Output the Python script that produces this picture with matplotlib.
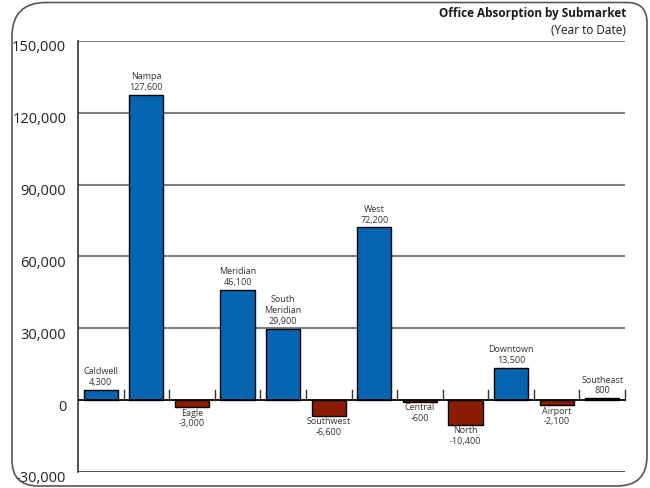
import matplotlib
matplotlib.use("Agg")
import matplotlib.pyplot as plt
import matplotlib.transforms as mtransforms
from matplotlib.path import Path
from matplotlib.patches import PathPatch

# Submarket absorption, year to date (sq ft)
submarkets = ["Caldwell", "Nampa", "Eagle", "Meridian", "South\nMeridian", "Southwest",
              "West", "Central", "North", "Downtown", "Airport", "Southeast"]
absorption = [4300, 127600, -3000, 46100, 29900, -6600, 72200, -600, -10400, 13500, -2100, 800]
value_labels = ["4,300", "127,600", "-3,000", "46,100", "29,900", "-6,600",
                "72,200", "-600", "-10,400", "13,500", "-2,100", "800"]
y_ticks = [-30000, 0, 30000, 60000, 90000, 120000, 150000]
y_tick_labels = ["-30,000", "0", "30,000", "60,000", "90,000", "120,000", "150,000"]

BLUE = "#0665b1"
RED = "#8b1c04"
TEXT = "#333333"
FONT = "Open Sans"

fig = plt.figure(figsize=(6.5, 4.88), dpi=100)
W, H = 650, 488

# Rounded outer frame with uneven corner radii
def frame_path(x0, y0, x1, y1, r_tl, r_tr, r_br, r_bl):
    fx = lambda v: v / W
    fy = lambda v: 1 - v / H
    verts = [
        (fx(x0 + r_tl), fy(y0)),
        (fx(x1 - r_tr), fy(y0)),
        (fx(x1), fy(y0)), (fx(x1), fy(y0 + r_tr)),
        (fx(x1), fy(y1 - r_br)),
        (fx(x1), fy(y1)), (fx(x1 - r_br), fy(y1)),
        (fx(x0 + r_bl), fy(y1)),
        (fx(x0), fy(y1)), (fx(x0), fy(y1 - r_bl)),
        (fx(x0), fy(y0 + r_tl)),
        (fx(x0), fy(y0)), (fx(x0 + r_tl), fy(y0)),
    ]
    codes = [Path.MOVETO, Path.LINETO, Path.CURVE3, Path.CURVE3, Path.LINETO,
             Path.CURVE3, Path.CURVE3, Path.LINETO, Path.CURVE3, Path.CURVE3,
             Path.LINETO, Path.CURVE3, Path.CURVE3]
    return Path(verts, codes)

fig.patches.append(PathPatch(frame_path(12, 2.5, 647, 486, 34, 20, 30, 26),
                             transform=fig.transFigure, facecolor="none",
                             edgecolor="#555555", linewidth=1.2))

ax = fig.add_axes([78 / W, 1 - 472 / H, (625 - 78) / W, (472 - 41) / H])
n = len(submarkets)
x = list(range(n))
colors = [BLUE if v >= 0 else RED for v in absorption]
ax.bar(x, absorption, width=0.75, color=colors, edgecolor="black", linewidth=1.0, zorder=3)

ax.set_xlim(-0.5, n - 0.5)
ax.set_ylim(-30000, 150000)

# Horizontal grid lines
for t in [30000, 60000, 90000, 120000, 150000]:
    ax.axhline(t, color="#7f7f7f", linewidth=1.5, zorder=1)
ax.axhline(0, color="black", linewidth=1.3, zorder=4)
ax.axhline(-30000, color="#444444", linewidth=1.3, zorder=1)

# Category divider ticks on the zero line
for k in range(1, n + 1):
    ax.plot([k - 0.5, k - 0.5], [0, 4200], color="#333333", linewidth=1.0,
            zorder=4, clip_on=False)

for s in ["top", "right", "bottom"]:
    ax.spines[s].set_visible(False)
ax.spines["left"].set_color("#333333")
ax.spines["left"].set_linewidth(1.2)

ax.set_xticks([])
ax.set_yticks(y_ticks)
ax.set_yticklabels(y_tick_labels, fontsize=10.5, color="#222222", family=FONT)
ax.tick_params(axis="y", length=0, pad=8.5)
shift = mtransforms.ScaledTranslation(0, -5 / 100, fig.dpi_scale_trans)
for lbl in ax.get_yticklabels():
    lbl.set_transform(lbl.get_transform() + shift)

# Bar labels: name and value
for xi, name, v, vl in zip(x, submarkets, absorption, value_labels):
    txt = f"{name}\n{vl}"
    if v >= 0:
        ax.annotate(txt, (xi, v), xytext=(0, 2), textcoords="offset points",
                    ha="center", va="bottom", fontsize=6.5, color=TEXT,
                    family=FONT, linespacing=1.25)
    else:
        ax.annotate(txt, (xi, v), xytext=(0, -1), textcoords="offset points",
                    ha="center", va="top", fontsize=6.5, color=TEXT,
                    family=FONT, linespacing=1.25)

fig.text(626 / W, 1 - 13 / H, "Office Absorption by Submarket", ha="right", va="center",
         fontsize=8.5, fontweight="bold", color="#1a1a1a", family=FONT)
fig.text(626 / W, 1 - 31 / H, "(Year to Date)", ha="right", va="center",
         fontsize=8.5, color="#1a1a1a", family=FONT)

fig.savefig("out.png", dpi=100)
